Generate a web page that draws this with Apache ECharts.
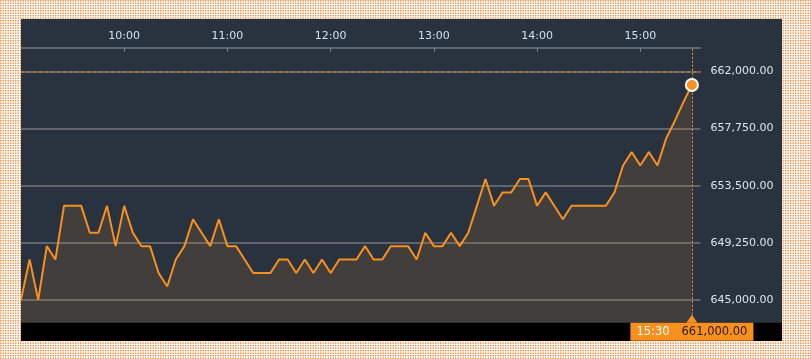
<!DOCTYPE html>
<html>
<head>
<meta charset="utf-8">
<script src="https://cdn.jsdelivr.net/npm/echarts@6/dist/echarts.min.js"></script>
<style>
html,body{margin:0;padding:0;}
body{width:811px;height:359px;overflow:hidden;position:relative;background-color:#fff;
background-image:url("data:image/svg+xml,%3Csvg xmlns='http://www.w3.org/2000/svg' width='5' height='5'%3E%3Cg fill='%23ec8a3e'%3E%3Crect x='0' y='0' width='1.4' height='1.4'/%3E%3Crect x='2.5' y='0' width='1.4' height='1.4'/%3E%3Crect x='0' y='2.5' width='1.4' height='1.4'/%3E%3Crect x='2.5' y='2.5' width='1.4' height='1.4'/%3E%3C/g%3E%3C/svg%3E");
background-size:5px 5px;}
#chart{position:absolute;left:21px;top:19px;width:761px;height:322px;background:#29333f;}
</style>
</head>
<body>
<div id="chart"></div>
<script>
// ---- data ----
const times = [
 '09:00','09:05','09:10','09:15','09:20','09:25','09:30','09:35','09:40','09:45','09:50','09:55',
 '10:00','10:05','10:10','10:15','10:20','10:25','10:30','10:35','10:40','10:45','10:50','10:55',
 '11:00','11:05','11:10','11:15','11:20','11:25','11:30','11:35','11:40','11:45','11:50','11:55',
 '12:00','12:05','12:10','12:15','12:20','12:25','12:30','12:35','12:40','12:45','12:50','12:55',
 '13:00','13:05','13:10','13:15','13:20','13:25','13:30','13:35','13:40','13:45','13:50','13:55',
 '14:00','14:05','14:10','14:15','14:20','14:25','14:30','14:35','14:40','14:45','14:50','14:55',
 '15:00','15:05','15:10','15:15','15:20','15:25','15:30'
];
const prices = [
 645000, 648000, 645000, 649000, 648000, 652000, 652000, 652000, 650000, 650000,
 652000, 649000, 652000, 650000, 649000, 649000, 647000, 646000, 648000, 649000,
 651000, 650000, 649000, 651000, 649000, 649000, 648000, 647000, 647000, 647000,
 648000, 648000, 647000, 648000, 647000, 648000, 647000, 648000, 648000, 648000,
 649000, 648000, 648000, 649000, 649000, 649000, 648000, 650000, 649000, 649000,
 650000, 649000, 650000, 652000, 654000, 652000, 653000, 653000, 654000, 654000,
 652000, 653000, 652000, 651000, 652000, 652000, 652000, 652000, 652000, 653000,
 655000, 656000, 655000, 656000, 655000, 657000, 658300, 659700, 661000
];
const xTickLabels = ['10:00','11:00','12:00','13:00','14:00','15:00'];
const yTicks = [645000, 649250, 653500, 657750, 662000];
const highLevel = 662000;
const xRange = ['09:00','15:35'];
const yRange = [643300, 663750];

// ---- helpers ----
const toMin = s => { const p = s.split(':'); return (+p[0]) * 60 + (+p[1]); };
const fmtTime = m => String(Math.floor(m / 60)).padStart(2, '0') + ':' + String(m % 60).padStart(2, '0');
const fmtNum = v => Number(v).toLocaleString('en-US', {minimumFractionDigits: 2, maximumFractionDigits: 2});

const lastT = toMin(times[times.length - 1]);
const lastP = prices[prices.length - 1];
const FONT = '"DejaVu Sans", Verdana, sans-serif';
const ORANGE = '#f7901e';

const chart = echarts.init(document.getElementById('chart'));
chart.setOption({
  animation: false,
  backgroundColor: '#29333f',
  grid: {left: 0, right: 81.5, top: 29, bottom: 18.3},
  graphic: [{
    type: 'rect', left: 0, bottom: 0, z: 0,
    shape: {width: 761, height: 18.3},
    style: {fill: '#000'}
  }],
  xAxis: {
    type: 'value', position: 'top',
    min: toMin(xRange[0]), max: toMin(xRange[1]),
    axisLine: {show: true, lineStyle: {color: '#5e646b', width: 2}},
    axisTick: {show: true, inside: true, length: 4, lineStyle: {color: '#7b8188', width: 1},
      customValues: xTickLabels.map(toMin)},
    axisLabel: {show: true, color: '#cfe0f2', fontSize: 11, fontFamily: FONT, margin: 6,
      customValues: xTickLabels.map(toMin), formatter: v => fmtTime(v)},
    splitLine: {show: false}
  },
  yAxis: {
    type: 'value', position: 'right',
    min: yRange[0], max: yRange[1],
    axisLine: {show: false},
    axisTick: {show: false, customValues: yTicks},
    axisLabel: {show: true, color: '#dde4ec', fontSize: 11, fontFamily: FONT, margin: 10,
      customValues: yTicks, formatter: v => fmtNum(v)},
    splitLine: {show: true, lineStyle: {color: '#5f656b', width: 2}}
  },
  series: [{
    type: 'line', z: 3,
    data: times.map((t, i) => [toMin(t), prices[i]]),
    showSymbol: false, symbol: 'none',
    lineStyle: {color: ORANGE, width: 2},
    areaStyle: {color: 'rgba(248,143,31,0.17)', origin: 'start'},
    markLine: {
      silent: true, symbol: 'none', animation: false,
      data: [
        {yAxis: highLevel, lineStyle: {color: '#b5773d', type: [3, 3], width: 1.6}, label: {show: false}},
        {xAxis: lastT, lineStyle: {color: ORANGE, type: [2, 2], width: 1},
          label: {show: true, position: 'start', distance: 0,
            formatter: '{t|' + fmtTime(lastT) + '}{v|' + fmtNum(lastP) + '}',
            backgroundColor: ORANGE, padding: [2, 6, 2, 6],
            rich: {
              t: {color: '#ffffff', fontSize: 11.5, fontFamily: FONT, lineHeight: 14, padding: [0, 12, 0, 0]},
              v: {color: '#2b1a08', fontSize: 11.5, fontFamily: FONT, lineHeight: 14}
            }}}
      ]
    },
    markPoint: {
      silent: true, animation: false, label: {show: false},
      data: [
        {coord: [lastT, yRange[0]], symbol: 'triangle', symbolSize: [11, 8], symbolOffset: [0, -4],
          itemStyle: {color: ORANGE}},
        {coord: [lastT, lastP], symbol: 'circle', symbolSize: 12,
          itemStyle: {color: ORANGE, borderColor: '#ffffff', borderWidth: 2}}
      ]
    }
  }]
});
</script>
</body>
</html>
